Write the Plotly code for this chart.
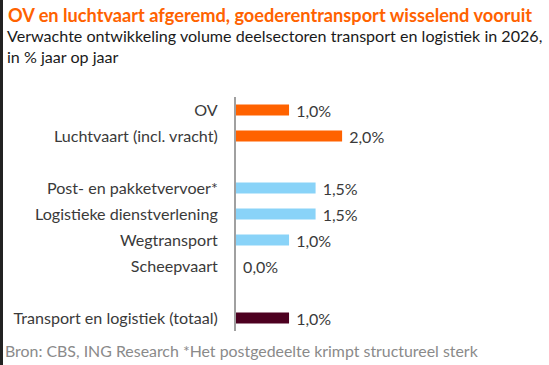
import plotly.graph_objects as go

categories = ["OV", "Luchtvaart (incl. vracht)", " ", "Post- en pakketvervoer*",
              "Logistieke dienstverlening", "Wegtransport", "Scheepvaart", "  ",
              "Transport en logistiek (totaal)"]
values = [1.0, 2.0, None, 1.5, 1.5, 1.0, 0.0, None, 1.0]
groups = ["ov", "ov", None, "goods", "goods", "goods", "goods", None, "total"]

title = "OV en luchtvaart afgeremd, goederentransport wisselend vooruit"
subtitle = "Verwachte ontwikkeling volume deelsectoren transport en logistiek in 2026,<br>in % jaar op jaar"
footer = "Bron: CBS, ING Research *Het postgedeelte krimpt structureel sterk"

palette = {"ov": "#FF6200", "goods": "#89D3F8", "total": "#4D0020", None: "rgba(0,0,0,0)"}
colors = [palette[g] for g in groups]
texts = ["" if v is None else "\u00a0" + f"{v:.1f}".replace(".", ",") + "%" for v in values]

FONT = "Lato"
fig = go.Figure(go.Bar(
    x=values, y=categories, orientation="h",
    marker=dict(color=colors, line=dict(width=0)),
    text=texts, textposition="outside", cliponaxis=False, constraintext="none",
    textfont=dict(family=FONT, size=16, color="#3a3a3a"),
    width=0.42, hoverinfo="skip",
))

fig.update_layout(
    width=549, height=365,
    margin=dict(l=236, r=0, t=97, b=34, autoexpand=False),
    paper_bgcolor="white", plot_bgcolor="white",
    showlegend=False,
    font=dict(family=FONT, size=16, color="#3a3a3a"),
    xaxis=dict(range=[0, 5.9], visible=False, fixedrange=True, automargin=False),
    yaxis=dict(autorange="reversed", showline=True, linecolor="#a0a0a0", linewidth=2,
               showgrid=False, zeroline=False, ticks="outside", ticklen=13, automargin=False,
               tickcolor="rgba(0,0,0,0)", tickfont=dict(family=FONT, size=16.1, color="#3a3a3a"),
               type="category", fixedrange=True),
    annotations=[
        dict(text=title, xref="paper", yref="paper", x=0, xshift=-230, y=1, yshift=97 - 2,
             xanchor="left", yanchor="top", showarrow=False,
             font=dict(family=FONT, size=18.2, color="#FF6200", weight="bold")),
        dict(text=subtitle, xref="paper", yref="paper", x=0, xshift=-231, y=1, yshift=97 - 24,
             xanchor="left", yanchor="top", showarrow=False, align="left",
             font=dict(family=FONT, size=16.1, color="#1a1a1a")),
        dict(text=footer, xref="paper", yref="paper", x=0, xshift=-233, y=0, yshift=-8,
             xanchor="left", yanchor="top", showarrow=False,
             font=dict(family=FONT, size=15.9, color="#8a8a8a")),
    ],
    shapes=[dict(type="rect", xref="paper", yref="paper", x0=0, x1=0, xsizemode="pixel",
                 xanchor=0, y0=-1, y1=2, layer="above", line=dict(width=0),
                 fillcolor="#222222")],
)
fig.update_shapes(x0=-236, x1=-233)
fig.write_html("out.html", config={"displayModeBar": False},
               post_script="document.body.style.margin='0';")
